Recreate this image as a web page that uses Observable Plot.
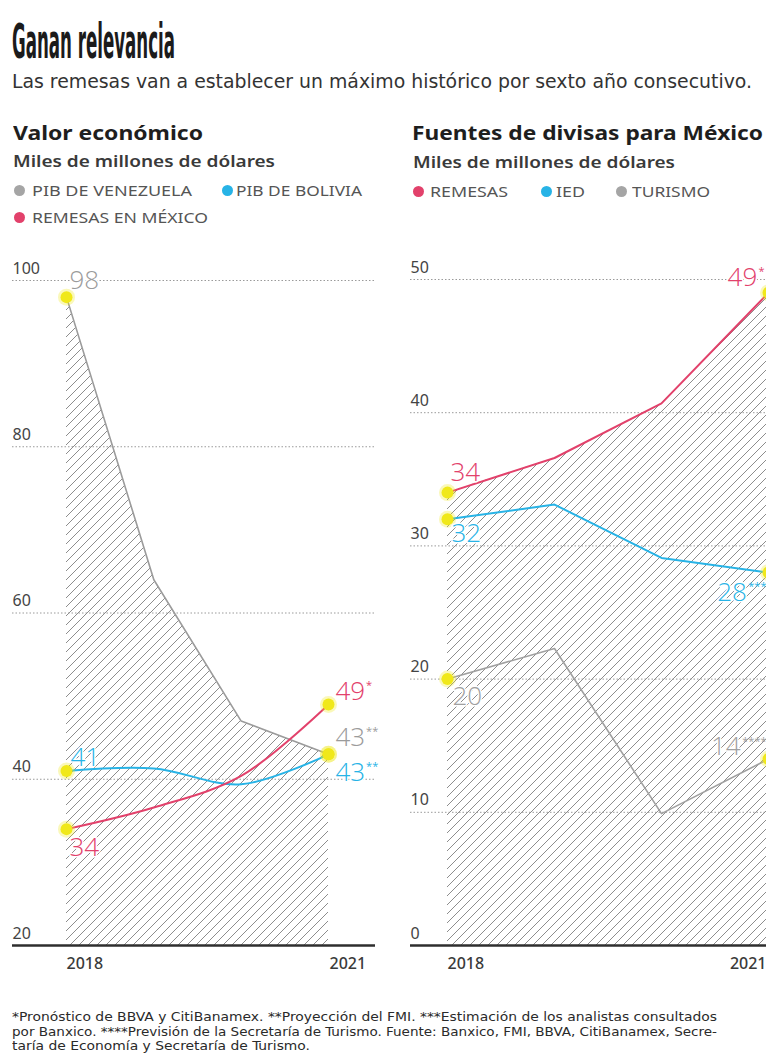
<!DOCTYPE html>
<html><head><meta charset="utf-8">
<script src="https://cdn.jsdelivr.net/npm/d3@7"></script>
<script src="https://cdn.jsdelivr.net/npm/@observablehq/plot@0.6"></script>
<style>
html,body{margin:0;padding:0;background:#fff;overflow:hidden;width:766px;height:1059px;}
#root{position:relative;width:766px;height:1059px;overflow:hidden;color:#222;}
.abs{position:absolute;white-space:nowrap;line-height:1;transform-origin:0 50%;}
.dot{position:absolute;border-radius:50%;width:11px;height:11px;}
.chart{position:absolute;top:250px;}
</style></head><body><div id="root"></div>
<script>
// ---------- DATA ----------
const years = [2018, 2019, 2020, 2021];
// Valor económico (miles de millones de dólares)
const pibVenezuela = [98, 64, 47, 43];
const pibBolivia = [41, 41.3, 39.4, 43];
const remesasMexico = [34, 36.6, 40.4, 49];
// Fuentes de divisas para México
const remesas = [34, 36.6, 40.7, 49];
const ied = [32, 33.1, 29.1, 28];
const turismo = [20, 22.3, 9.9, 14];
const leftTicks = [20, 40, 60, 80, 100];
const rightTicks = [0, 10, 20, 30, 40, 50];
const yearLabels = [2018, 2021];
const leftNames = ["PIB DE VENEZUELA", "PIB DE BOLIVIA", "REMESAS EN MÉXICO"];
const rightNames = ["REMESAS", "IED", "TURISMO"];
const leftMarks = ["**", "**", "*"];
const rightMarks = ["*", "***", "****"];

// ---------- STYLE ----------
const GRAY = "#a5a5a5", BLUE = "#27b3e6", RED = "#e2416b", YELLOW = "#f0e81a";
const root = document.getElementById("root");

function addText(txt, x, yc, style, fitW) {
  const d = document.createElement("div");
  d.className = "abs";
  d.textContent = txt;
  Object.assign(d.style, style);
  d.style.left = x + "px";
  root.appendChild(d);
  const place = () => {
    d.style.transform = "none";
    const r = d.getBoundingClientRect();
    d.style.top = (yc - r.height / 2) + "px";
    if (fitW) d.style.transform = `scaleX(${fitW / r.width})`;
  };
  place();
  document.fonts && document.fonts.ready.then(place);
  return d;
}
function addDot(color, cx, cy) {
  const d = document.createElement("div");
  d.className = "dot";
  d.style.background = color;
  d.style.left = (cx - 5.5) + "px";
  d.style.top = (cy - 5.5) + "px";
  root.appendChild(d);
}

const narrow = {fontFamily: "'Liberation Sans Narrow','DejaVu Sans Condensed',sans-serif"};
addText("Ganan relevancia", 12, 41, {...narrow, fontWeight: "bold", fontSize: "48px", color: "#1b1b1b"}, 163);
addText("Las remesas van a establecer un máximo histórico por sexto año consecutivo.", 12, 81,
  {...narrow, fontSize: "19px", color: "#333"}, 740);

const head = {fontFamily: "'Noto Sans',sans-serif", fontWeight: "700", fontSize: "20px", color: "#1e1e1e"};
const sub = {fontFamily: "'Noto Sans',sans-serif", fontWeight: "600", fontSize: "16px", color: "#3a3a3a"};
const leg = {fontFamily: "'Noto Sans',sans-serif", fontWeight: "400", fontSize: "14px", color: "#555"};

addText("Valor económico", 13, 133, head, 190);
addText("Miles de millones de dólares", 13, 161, sub, 262);
addDot(GRAY, 19, 190); addText(leftNames[0], 32, 191, leg, 160);
addDot(BLUE, 227, 190); addText(leftNames[1], 236, 191, leg, 126);
addDot(RED, 19, 217); addText(leftNames[2], 32, 218, leg, 176);

addText("Fuentes de divisas para México", 412, 133, head, 351);
addText("Miles de millones de dólares", 413, 162, sub, 262);
addDot(RED, 418, 191); addText(rightNames[0], 430, 192, leg, 78);
addDot(BLUE, 546, 191); addText(rightNames[1], 556, 192, leg, 29);
addDot(GRAY, 621, 191); addText(rightNames[2], 632, 192, leg, 78);

const foot = {...narrow, fontSize: "12.5px", color: "#2a2a2a"};
addText("*Pronóstico de BBVA y CitiBanamex. **Proyección del FMI. ***Estimación de los analistas consultados", 12, 1017, foot, 705);
addText("por Banxico. ****Previsión de la Secretaría de Turismo. Fuente: Banxico, FMI, BBVA, CitiBanamex, Secre-", 12, 1032, foot, 705);
addText("taría de Economía y Secretaría de Turismo.", 12, 1046, foot, 298);

function hatchDefs(svg, id) {
  const defs = d3.select(svg).insert("defs", ":first-child");
  const p = defs.append("pattern").attr("id", id).attr("patternUnits", "userSpaceOnUse")
    .attr("width", 9).attr("height", 9);
  p.append("path").attr("d", "M-1,1 l2,-2 M0,9 l9,-9 M8,10 l2,-2")
    .attr("stroke", "#8d8d8d").attr("stroke-width", 1);
}

const DIGIT_W = 14.8, STAR_W = 6.2;

function buildChart(cfg) {
  const marks = [];
  const base = cfg.ticks[0];
  marks.push(Plot.ruleY(cfg.ticks.slice(1), {stroke: "#9a9a9a", strokeWidth: 1, strokeDasharray: "1.5,2"}));
  for (const s of cfg.series) {
    if (!s.hatch) continue;
    const data = years.map((yr, i) => ({year: yr, value: s.values[i]}));
    marks.push(Plot.areaY(data, {x: "year", y1: base, y2: "value", fill: `url(#${cfg.id})`, curve: s.curve}));
  }
  marks.push(Plot.ruleY([base], {stroke: "#2e2e2e", strokeWidth: 2.5}));
  marks.push(Plot.text(cfg.ticks, {y: d => d, text: d => String(d), frameAnchor: "left", textAnchor: "start",
    dy: -12, fontSize: 16, fill: "#444"}));
  for (const s of cfg.series) {
    const data = years.map((yr, i) => ({year: yr, value: s.values[i]}));
    marks.push(Plot.line(data, {x: "year", y: "value", stroke: s.color, strokeWidth: s.width, curve: s.curve}));
  }
  const n = years.length - 1;
  for (const s of cfg.series) {
    const ends = [{year: years[0], value: s.values[0]}, {year: years[n], value: s.values[n]}];
    marks.push(Plot.dot(ends, {x: "year", y: "value", r: 8.5, fill: YELLOW, fillOpacity: 0.3}));
    marks.push(Plot.dot(ends, {x: "year", y: "value", r: 6, fill: YELLOW}));
  }
  for (const s of cfg.series) {
    const lab = {fontSize: 26, fontWeight: 300, fontFamily: "'Open Sans',sans-serif", fill: s.color,
      stroke: "white", strokeWidth: 3};
    const first = [{year: years[0], value: s.values[0]}];
    const last = [{year: years[n], value: s.values[n]}];
    marks.push(Plot.text(first, {x: "year", y: "value",
      text: d => String(Math.round(d.value)), textAnchor: "start", dx: s.first[0], dy: s.first[1], ...lab}));
    const numTxt = String(Math.round(s.values[n]));
    const markW = s.mark.length * STAR_W, numW = numTxt.length * DIGIT_W;
    const [ldx, ldy, anchor] = s.last;
    const numDx = anchor === "start" ? ldx : ldx - markW - 1;
    const starDx = anchor === "start" ? ldx + numW + 1 : ldx;
    marks.push(Plot.text(last, {x: "year", y: "value", text: () => numTxt, textAnchor: anchor === "start" ? "start" : "end",
      dx: numDx, dy: ldy, ...lab}));
    marks.push(Plot.text(last, {x: "year", y: "value", text: () => s.mark, textAnchor: anchor,
      dx: starDx, dy: ldy - 6, fontSize: 11, fontWeight: 400, fontFamily: "'Open Sans',sans-serif", fill: s.color}));
  }
  marks.push(Plot.text(yearLabels.slice(0, 1), {x: d => d, text: d => String(d), frameAnchor: "bottom",
    dy: 23, textAnchor: "start", fontSize: 16, fontWeight: 500, fill: "#3a3a3a"}));
  marks.push(Plot.text(yearLabels.slice(1), {x: d => d, text: d => String(d), frameAnchor: "bottom",
    dy: 23, textAnchor: cfg.endAnchor, dx: cfg.endDx, fontSize: 16, fontWeight: 500, fill: "#3a3a3a"}));

  const svg = Plot.plot({
    width: cfg.width, height: 740,
    marginTop: 30, marginBottom: 45, marginLeft: cfg.ml, marginRight: cfg.mr,
    x: {type: "linear", domain: [years[0], years[n]], range: cfg.xRange, axis: null},
    y: {domain: [base, cfg.ticks[cfg.ticks.length - 1]], range: [695, cfg.yTop], axis: null},
    style: {fontFamily: "'Noto Sans',sans-serif", background: "transparent", overflow: "visible"},
    marks
  });
  hatchDefs(svg, cfg.id);
  svg.classList.add("chart");
  svg.style.left = cfg.left + "px";
  root.appendChild(svg);
}

buildChart({
  id: "hatchLeft", left: 0, width: 400, ml: 12, mr: 25, xRange: [66, 328], yTop: 30,
  ticks: leftTicks, endAnchor: "start", endDx: 1,
  series: [
    {values: pibVenezuela, mark: leftMarks[0], color: "#9b9b9b", width: 1.6, curve: "linear", hatch: true,
      first: [3, -16], last: [7, -17, "start"]},
    {values: pibBolivia, mark: leftMarks[1], color: BLUE, width: 2, curve: "catmull-rom",
      first: [4, -13], last: [7, 18, "start"]},
    {values: remesasMexico, mark: leftMarks[2], color: RED, width: 2, curve: "catmull-rom",
      first: [3, 19], last: [7, -13, "start"]}
  ]
});
buildChart({
  id: "hatchRight", left: 400, width: 440, ml: 10, mr: 0, xRange: [47, 368], yTop: 29,
  ticks: rightTicks, endAnchor: "end", endDx: -2,
  series: [
    {values: turismo, mark: rightMarks[2], color: "#a0a0a0", width: 1.6, curve: "linear",
      first: [5, 18], last: [-2, -12, "end"]},
    {values: ied, mark: rightMarks[1], color: BLUE, width: 2, curve: "linear",
      first: [4, 14], last: [-2, 20, "end"]},
    {values: remesas, mark: rightMarks[0], color: RED, width: 2, curve: "linear", hatch: true,
      first: [3, -20], last: [-4, -15, "end"]}
  ]
});
</script></body></html>
